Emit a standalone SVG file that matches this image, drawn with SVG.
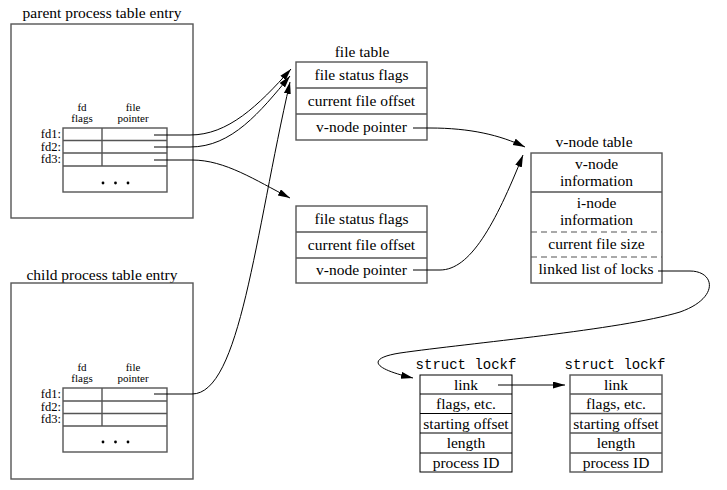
<svg xmlns="http://www.w3.org/2000/svg" width="727" height="490" viewBox="0 0 727 490">
<defs>
<marker id="ah" markerWidth="12" markerHeight="8" refX="12" refY="3.5" orient="auto" markerUnits="userSpaceOnUse">
<path d="M0,0 L12,3.5 L0,7 z" fill="#000"/>
</marker>
<style>
.box{fill:none;stroke:#555;stroke-width:1.4}
.blk{fill:none;stroke:#000;stroke-width:1}
.dash{stroke:#555;stroke-width:1.2;stroke-dasharray:6,4}
.t{font-family:"Liberation Serif",serif;font-size:15.5px;fill:#000;text-anchor:middle}
.s{font-family:"Liberation Serif",serif;font-size:11px;fill:#000;text-anchor:middle}
.fd{font-family:"Liberation Serif",serif;font-size:12.5px;fill:#000;text-anchor:end}
.m{font-family:"Liberation Mono",monospace;font-size:14px;fill:#000;text-anchor:middle}
.c{fill:none;stroke:#000;stroke-width:1}
</style>
</defs>
<rect width="727" height="490" fill="#fff"/>

<g id="parent">
<text class="t" x="102" y="18">parent process table entry</text>
<rect class="box" x="11" y="24" width="182" height="194"/>
<text class="s" x="82" y="111">fd</text>
<text class="s" x="82" y="122">flags</text>
<text class="s" x="133" y="111">file</text>
<text class="s" x="133" y="122">pointer</text>
<rect class="box" x="63" y="128" width="104" height="64"/>
<path class="box" d="M63,140.5H167M63,153H167M63,166H167M102,128V166"/>
<text class="fd" x="61" y="138">fd1:</text>
<text class="fd" x="61" y="150.5">fd2:</text>
<text class="fd" x="61" y="163">fd3:</text>
<circle cx="103" cy="183" r="1.4"/><circle cx="115.5" cy="183" r="1.4"/><circle cx="128" cy="183" r="1.4"/>
</g>

<g id="child">
<text class="t" x="102" y="280">child process table entry</text>
<rect class="box" x="11" y="283" width="182" height="196"/>
<text class="s" x="82" y="371">fd</text>
<text class="s" x="82" y="382">flags</text>
<text class="s" x="133" y="371">file</text>
<text class="s" x="133" y="382">pointer</text>
<rect class="box" x="63" y="388" width="104" height="64"/>
<path class="box" d="M63,401H167M63,413.5H167M63,426H167M102,388V426"/>
<text class="fd" x="61" y="398">fd1:</text>
<text class="fd" x="61" y="410.5">fd2:</text>
<text class="fd" x="61" y="423">fd3:</text>
<circle cx="103" cy="442" r="1.4"/><circle cx="115.5" cy="442" r="1.4"/><circle cx="128" cy="442" r="1.4"/>
</g>

<g id="filetable1">
<text class="t" x="362" y="57">file table</text>
<rect class="box" x="296" y="62" width="131" height="78"/>
<path class="box" d="M296,88H427M296,114H427"/>
<text class="t" x="361.5" y="80">file status flags</text>
<text class="t" x="361.5" y="106">current file offset</text>
<text class="t" x="361.5" y="132">v-node pointer</text>
</g>

<g id="filetable2">
<rect class="box" x="296" y="206" width="131" height="77"/>
<path class="box" d="M296,232H427M296,258H427"/>
<text class="t" x="361.5" y="224">file status flags</text>
<text class="t" x="361.5" y="250">current file offset</text>
<text class="t" x="361.5" y="275">v-node pointer</text>
</g>

<g id="vnode">
<text class="t" x="594" y="147">v-node table</text>
<rect class="box" x="531" y="153" width="131" height="130"/>
<path class="box" d="M531,192H662"/>
<path class="dash" d="M531,232H662M531,257H662"/>
<text class="t" x="596.5" y="169">v-node</text>
<text class="t" x="596.5" y="186">information</text>
<text class="t" x="596.5" y="208">i-node</text>
<text class="t" x="596.5" y="225">information</text>
<text class="t" x="596.5" y="249">current file size</text>
<text class="t" x="596" y="274">linked list of locks</text>
</g>

<g id="lockf1">
<text class="m" x="466" y="369">struct lockf</text>
<rect class="blk" x="420" y="375" width="92" height="97"/>
<path class="blk" d="M420,394H512M420,413.5H512M420,433H512M420,453H512"/>
<text class="t" x="466" y="390">link</text>
<text class="t" x="466" y="409">flags, etc.</text>
<text class="t" x="466" y="429">starting offset</text>
<text class="t" x="466" y="448">length</text>
<text class="t" x="466" y="468">process ID</text>
</g>

<g id="lockf2">
<text class="m" x="615" y="369">struct lockf</text>
<rect class="box" x="570" y="375" width="92" height="97"/>
<path class="box" d="M570,394H662M570,413.5H662M570,433H662M570,453H662"/>
<text class="t" x="616" y="390">link</text>
<text class="t" x="616" y="409">flags, etc.</text>
<text class="t" x="616" y="429">starting offset</text>
<text class="t" x="616" y="448">length</text>
<text class="t" x="616" y="468">process ID</text>
</g>

<g id="connectors">
<path class="c" marker-end="url(#ah)" d="M154,135H190C228,135 258,106 291,69"/>
<path class="c" marker-end="url(#ah)" d="M154,147H190C232,147 260,112 290,76"/>
<path class="c" marker-end="url(#ah)" d="M154,160H192C225,160 255,180 290,198"/>
<path class="c" marker-end="url(#ah)" d="M154,394H192C240,394 255,235 290,82"/>
<path class="c" marker-end="url(#ah)" d="M413,128H430C470,128 500,135 525,147"/>
<path class="c" marker-end="url(#ah)" d="M413,270H440C470,270 495,225 523,155"/>
<path class="c" marker-end="url(#ah)" d="M658,271H690C715,271 720,298 680,312C620,330 470,343 400,353C368,358 370,368 413,378"/>
<path class="c" marker-end="url(#ah)" d="M498,385H565"/>
</g>
</svg>
